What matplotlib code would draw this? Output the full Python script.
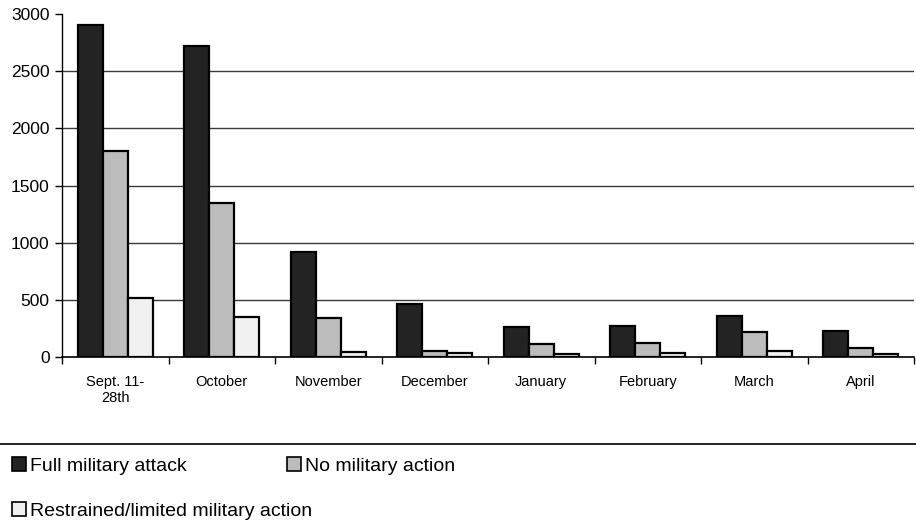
import matplotlib.pyplot as plt
from matplotlib.patches import Patch
import numpy as np

plt.rcParams['font.family'] = ['Liberation Sans', 'DejaVu Sans']

# Месяцы и значения по трём сценариям
months = ['Sept. 11-\n28th', 'October', 'November', 'December',
          'January', 'February', 'March', 'April']
full_attack = [2900, 2720, 920, 460, 260, 270, 360, 225]
no_action = [1800, 1350, 340, 50, 110, 120, 220, 80]
restrained = [520, 350, 45, 35, 30, 35, 50, 30]

series_names = ['Full military attack', 'No military action',
                'Restrained/limited military action']
series_colors = ['#232323', '#bcbcbc', '#f1f1f1']
grid_levels = [500, 1000, 1500, 2000, 2500]
y_ticks = [0, 500, 1000, 1500, 2000, 2500, 3000]

fig = plt.figure(figsize=(9.16, 5.30), dpi=100)
ax = fig.add_axes([62 / 916, 1 - 357 / 530, 852 / 916, 343 / 530])

x = np.arange(len(months))
w = 0.235
for k, (vals, col) in enumerate(zip([full_attack, no_action, restrained], series_colors)):
    ax.bar(x + (k - 1) * w, vals, w, color=col, edgecolor='black',
           linewidth=1.6, zorder=3)

for g in grid_levels:
    ax.axhline(g, color='#3a3a3a', linewidth=1.0, zorder=1)

ax.set_xlim(-0.5, len(months) - 0.5)
ax.set_ylim(0, 3000)
ax.set_yticks(y_ticks)
ax.tick_params(axis='y', direction='out', length=5, width=1, pad=4, labelsize=12.5)

# метки месяцев по центрам, засечки — на границах групп
ax.set_xticks(np.arange(len(months) + 1) - 0.5)
ax.set_xticklabels([])
ax.set_xticks(x, minor=True)
ax.set_xticklabels(months, minor=True, fontsize=10.5)
ax.tick_params(axis='x', which='major', direction='out', length=5, width=1)
ax.tick_params(axis='x', which='minor', length=0, pad=13)

for s in ['top', 'right']:
    ax.spines[s].set_visible(False)
ax.spines['left'].set_linewidth(1.0)
ax.spines['bottom'].set_linewidth(1.2)

# разделительная линия над легендой
fig.add_artist(plt.Line2D([0, 1], [1 - 444 / 530, 1 - 444 / 530],
                          color='black', linewidth=1.2))

handles = [Patch(facecolor=c, edgecolor='black', linewidth=1.2) for c in series_colors]
leg_kw = dict(loc='upper left', frameon=False, fontsize=14, handlelength=0.72,
              handleheight=0.72, handletextpad=0.2, labelspacing=1.4,
              borderaxespad=0, borderpad=0)
fig.legend([handles[0], handles[2]], [series_names[0], series_names[2]],
           bbox_to_anchor=(12 / 916, 1 - 457 / 530), **leg_kw)
fig.legend([handles[1]], [series_names[1]],
           bbox_to_anchor=(287 / 916, 1 - 457 / 530), **leg_kw)

fig.savefig('out.png', dpi=100)
